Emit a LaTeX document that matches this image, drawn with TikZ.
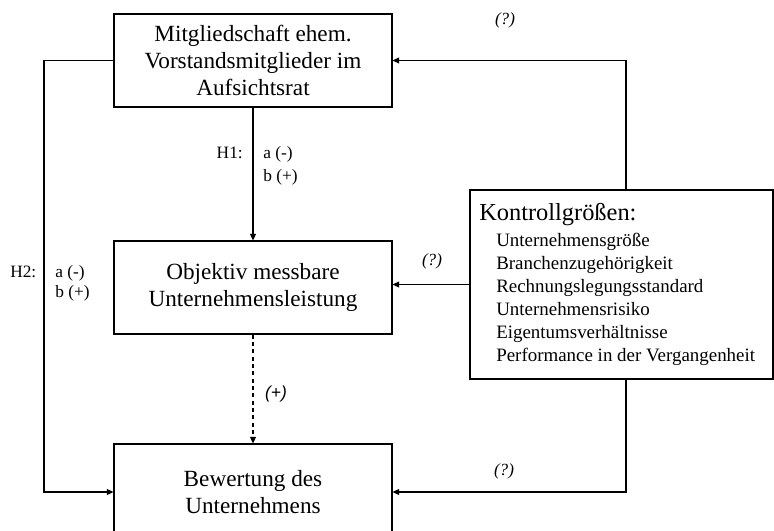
\documentclass[tikz,border=0pt]{standalone}
\usepackage{fontspec}
\setmainfont{Liberation Serif}
\newfontfamily\arialfont{Liberation Sans}
\usetikzlibrary{arrows.meta}
\begin{document}
\begin{tikzpicture}[x=0.75pt,y=-0.75pt,
  box/.style={draw, line width=0.8pt, minimum width=208.5pt, inner sep=0pt,
    font=\fontsize{17.4}{20.25}\selectfont, align=center},
  conn/.style={line width=0.9pt, -{Triangle[length=5pt,width=4.5pt]}},
  lbl/.style={font=\fontsize{13}{16.5}\selectfont, inner sep=0pt},
  qlbl/.style={font=\fontsize{12.8}{15}\selectfont\itshape, inner sep=0pt, anchor=base},
  item/.style={font=\fontsize{14.2}{17}\selectfont, inner sep=0pt, anchor=base west},
]
\clip (0,0) rectangle (774,531);
\node[box, minimum height=69.75pt] (b1) at (253,60.5) {Mitgliedschaft ehem.\\Vorstandsmitglieder im\\Aufsichtsrat};
\node[box, minimum height=69.75pt] (b2) at (253,287.5) {Objektiv messbare\\Unternehmensleistung};
\node[box, minimum height=72pt] (b3) at (253,492) {Bewertung des\\Unternehmens};
\node[draw, line width=1pt, minimum width=227.25pt, minimum height=141.75pt, inner sep=0pt] (ctrl) at (621.5,284.5) {};
\node[font=\fontsize{18.3}{20}\selectfont, inner sep=0pt, anchor=base west] (kt) at (479,220) {Kontrollgrößen:};
\node[item] (k1) at (496,246) {Unternehmensgröße};
\node[item] (k2) at (496,269) {Branchenzugehörigkeit};
\node[item] (k3) at (496,292) {Rechnungslegungsstandard};
\node[item] (k4) at (496,315) {Unternehmensrisiko};
\node[item] (k5) at (496,338) {Eigentumsverhältnisse};
\node[item] (k6) at (496,361) {Performance in der Vergangenheit};

\coordinate (cx) at (626,0);
\coordinate (lx) at (44,0);

\draw[conn] (b1) -- (b2);
\draw[conn, dash pattern=on 3pt off 2.5pt] (b2) -- (b3);
\draw[conn] (b1.west) -- (b1.west -| lx) -- (b3.west -| lx) -- (b3.west);
\draw[conn] (ctrl.north -| cx) -- (cx |- b1.east) -- (b1.east);
\draw[conn] (ctrl.west) -- (ctrl.west -| b2.east);
\draw[conn] (ctrl.south -| cx) -- (cx |- b3.east) -- (b3.east);

\node[lbl, anchor=base east] (h1) at (243,159) {H1:};
\node[lbl, anchor=base west] (h1a) at (263,159) {a (-)};
\node[lbl, anchor=base west] (h1b) at (263,181) {b (+)};
\node[lbl, anchor=base west] (h2) at (10,277) {H2:};
\node[lbl, anchor=base west] (h2a) at (55,277) {a (-)};
\node[lbl, anchor=base west] (h2b) at (55,297) {b (+)};

\node[qlbl] (q1) at (505,25) {(?)};
\node[qlbl] (q2) at (432,265) {(?)};
\node[qlbl] (q3) at (504,475) {(?)};
\node[font=\arialfont\itshape\fontsize{13}{15}\selectfont, inner sep=0pt, anchor=base] (pl) at (276,398) {(+)};
\end{tikzpicture}
\end{document}
